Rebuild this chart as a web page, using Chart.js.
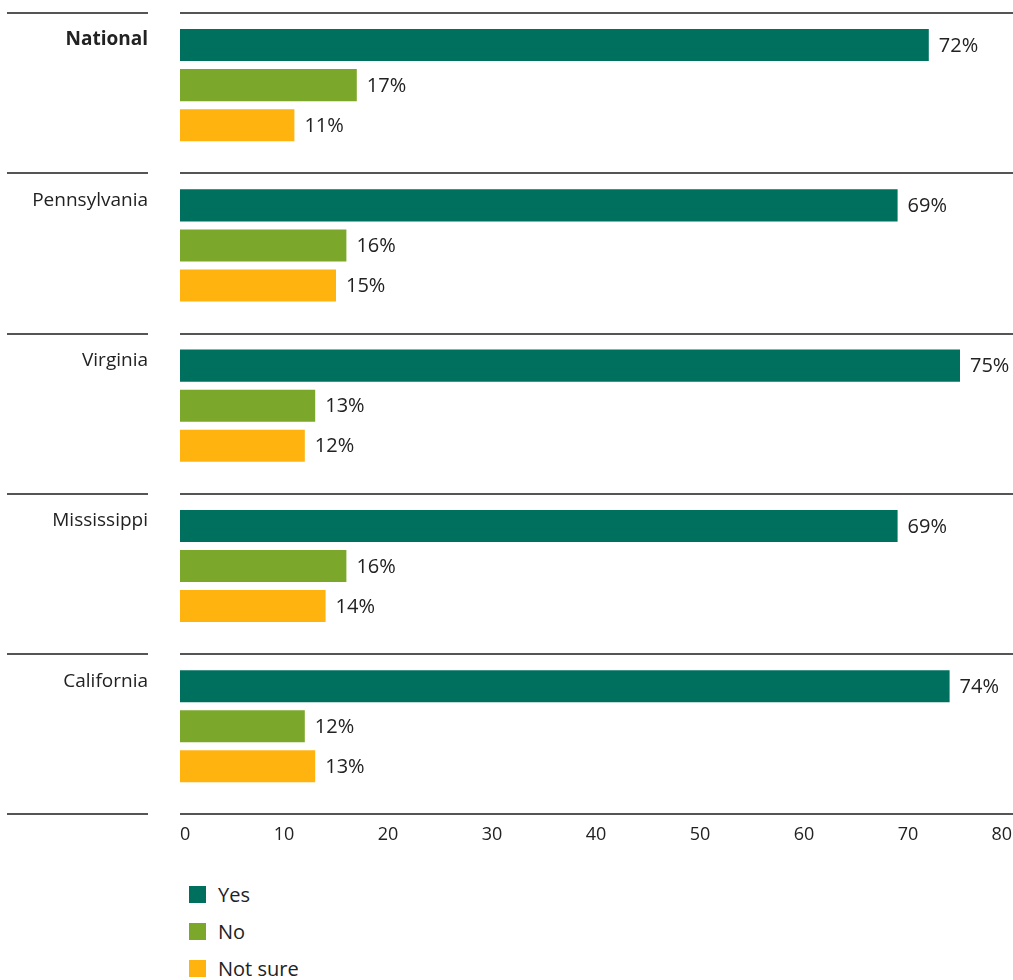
<!DOCTYPE html>
<html>
<head>
<meta charset="utf-8">
<script src="https://cdn.jsdelivr.net/npm/chart.js@4.4.1/dist/chart.umd.min.js"></script>
<style>
  html, body { margin: 0; padding: 0; background: #fff; }
  #wrap { position: relative; width: 1013px; height: 980px; }
  #chart { position: absolute; left: 0; top: 0; }
  #legend { position: absolute; left: 189px; top: 876px; font-family: 'Open Sans', sans-serif; font-size: 20px; color: #222; }
  #legend div { display: flex; align-items: center; height: 37px; }
  #legend span.box { width: 17px; height: 17px; margin-right: 12px; display: inline-block; }
</style>
</head>
<body>
<div id="wrap">
  <canvas id="chart" width="1013" height="846"></canvas>
  <div id="legend"></div>
</div>
<script>
const regions = ['National', 'Pennsylvania', 'Virginia', 'Mississippi', 'California'];
const yesValues = [72, 69, 75, 69, 74];
const noValues = [17, 16, 13, 16, 12];
const notSureValues = [11, 15, 12, 14, 13];
const seriesNames = ['Yes', 'No', 'Not sure'];
const xTicks = [0, 10, 20, 30, 40, 50, 60, 70, 80];

const COLORS = ['#00705e', '#7ba72a', '#ffb30f'];
const FONT = "'Open Sans', sans-serif";
const TEXT = '#222';
const RULE = '#555';

// Horizontal rules between regions, region names and the value labels
const decorations = {
  id: 'decorations',
  afterDatasetsDraw(chart) {
    const { ctx, chartArea } = chart;
    const y = chart.scales.y;
    const step = y.getPixelForValue(1) - y.getPixelForValue(0);
    const firstTop = y.getPixelForValue(0) - step / 2 + 8;

    ctx.save();
    ctx.strokeStyle = RULE;
    ctx.lineWidth = 2;
    for (let i = 0; i <= regions.length; i++) {
      const py = Math.round(firstTop + i * step);
      ctx.beginPath();
      ctx.moveTo(7, py);
      ctx.lineTo(148, py);
      ctx.moveTo(chartArea.left, py);
      ctx.lineTo(chart.width, py);
      ctx.stroke();
    }

    ctx.fillStyle = TEXT;
    ctx.textAlign = 'right';
    ctx.textBaseline = 'middle';
    regions.forEach((name, i) => {
      ctx.font = (i === 0 ? 'bold ' : '') + '19px ' + FONT;
      ctx.fillText(name, 148, firstTop + i * step + 27);
    });

    ctx.font = '20px ' + FONT;
    ctx.textAlign = 'left';
    chart.data.datasets.forEach((ds, di) => {
      chart.getDatasetMeta(di).data.forEach((bar, i) => {
        ctx.fillText(ds.data[i] + '%', bar.x + 10, bar.y + 1);
      });
    });
    ctx.restore();
  }
};

const chart = new Chart(document.getElementById('chart').getContext('2d'), {
  type: 'bar',
  data: {
    labels: regions,
    datasets: [
      { label: seriesNames[0], data: yesValues, backgroundColor: COLORS[0] },
      { label: seriesNames[1], data: noValues, backgroundColor: COLORS[1] },
      { label: seriesNames[2], data: notSureValues, backgroundColor: COLORS[2] }
    ]
  },
  options: {
    indexAxis: 'y',
    responsive: false,
    animation: false,
    categoryPercentage: 0.75,
    barPercentage: 0.8,
    layout: { padding: { left: 180, right: 1, top: 5, bottom: 0 } },
    plugins: {
      legend: { display: false },
      tooltip: { enabled: false }
    },
    scales: {
      y: { display: false },
      x: {
        min: 0,
        max: 80,
        afterBuildTicks: scale => { scale.ticks = xTicks.map(v => ({ value: v })); },
        // gap above the labels comes from the (hidden) tick marks
        grid: { display: false, drawTicks: true, tickLength: 18 },
        border: { display: false },
        ticks: {
          align: 'inner',
          padding: 0,
          color: TEXT,
          font: { family: FONT, size: 18 }
        }
      }
    }
  },
  plugins: [decorations]
});

// Vertical legend under the chart
const legend = document.getElementById('legend');
seriesNames.forEach((name, i) => {
  const row = document.createElement('div');
  row.innerHTML = '<span class="box" style="background:' + COLORS[i] + '"></span>' + name;
  legend.appendChild(row);
});
</script>
</body>
</html>
